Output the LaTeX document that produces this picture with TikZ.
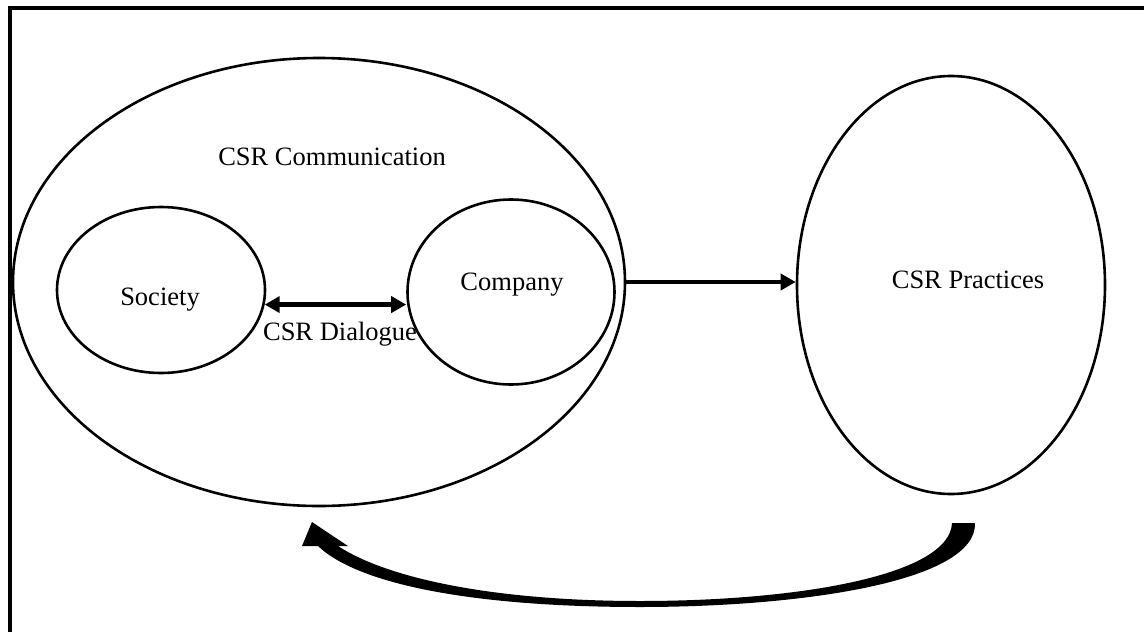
\documentclass[tikz,border=0pt]{standalone}
\usepackage{fontspec}
\setmainfont{Liberation Serif}
\usetikzlibrary{shapes.geometric,arrows.meta}
\begin{document}
\begin{tikzpicture}[x=1pt,y=-1pt,
  oval/.style={draw,ellipse,line width=2.6pt,inner sep=0pt},
  lbl/.style={inner sep=0pt,font=\fontsize{26.5}{30}\selectfont},
  conn/.style={line width=4.5pt,-{Triangle[length=15pt,width=16pt]}},
  dconn/.style={line width=4.5pt,{Triangle[length=15pt,width=16pt]}-{Triangle[length=15pt,width=16pt]}}]
\useasboundingbox (0,0) rectangle (1144,632);
\fill[white] (0,0) rectangle (1144,632);
% frame (cropped)
\coordinate (ftr) at (1144,8);
\coordinate (ftl) at (8,8);
\coordinate (fbl) at (10,632);
\draw[line width=4pt] (ftr) -- (ftl);
\draw[line width=4pt] (10,6) -- (fbl);
% ellipses
\node[oval,minimum width=612pt,minimum height=448pt] (comm) at (319,282) {};
\node[oval,minimum width=208pt,minimum height=166pt] (society) at (161,290) {};
\node[oval,minimum width=207pt,minimum height=185pt] (company) at (511,292) {};
\node[oval,minimum width=308pt,minimum height=418pt] (practices) at (951,285) {};
% labels
\node[lbl] (tcomm) at (332,157) {CSR Communication};
\node[lbl] (tsoc) at (160,300) {Society};
\node[lbl] (tcomp) at (512,285) {Company};
\node[lbl] (tdia) at (340,334) {CSR Dialogue};
\node[lbl] (tprac) at (968,280) {CSR Practices};
% connectors
\draw[dconn] (society.-8.3) -- (society.-8.3 -| company.west);
\draw[conn] (comm.east) -- (comm.east -| practices.west);
% curved feedback arrow
\fill (312,522) -- (348,546) -- (338,546)
  .. controls (390,580) and (500,601) .. (640,601)
  .. controls (800,601) and (950,575) .. (952,523)
  -- (975,523)
  .. controls (977,582) and (800,607) .. (640,607)
  .. controls (480,607) and (360,586) .. (318,546)
  -- (302,546) -- cycle;
\end{tikzpicture}
\end{document}
